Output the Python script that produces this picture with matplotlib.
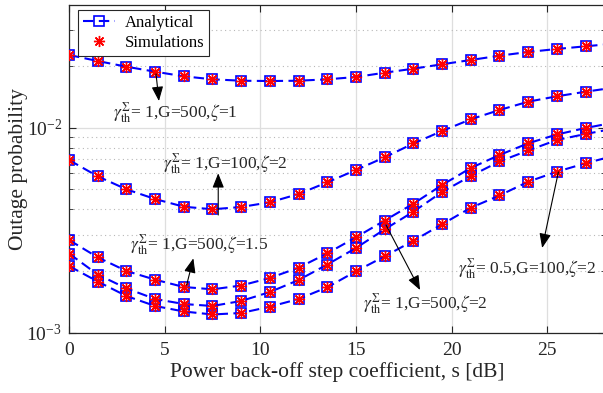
import matplotlib
matplotlib.use('Agg')
import matplotlib.pyplot as plt
from matplotlib.lines import Line2D
from matplotlib.ticker import LogLocator, NullFormatter

plt.rcParams['font.family'] = ['Liberation Serif', 'DejaVu Serif']
plt.rcParams['mathtext.fontset'] = 'stix'

# ---------------- data ----------------
s_db = [0, 1.5, 3, 4.5, 6, 7.5, 9, 10.5, 12, 13.5, 15, 16.5, 18, 19.5, 21,
        22.5, 24, 25.5, 27, 28.5]

# gamma=1, G=500, zeta=1
ana_g1_G500_z1 = [0.02263, 0.02115, 0.01984, 0.01876, 0.01781, 0.01722, 0.01695,
                  0.01689, 0.01695, 0.01722, 0.01767, 0.01855, 0.01940, 0.02039,
                  0.02139, 0.02245, 0.02341, 0.02421, 0.02495, 0.02570]
# gamma=1, G=100, zeta=2
ana_g1_G100_z2 = [0.006956, 0.005792, 0.005006, 0.004488, 0.004117, 0.004000,
                  0.004104, 0.004326, 0.004748, 0.005415, 0.006219, 0.007172,
                  0.008375, 0.009636, 0.01099, 0.01220, 0.01339, 0.01423,
                  0.01498, 0.01570]
# gamma=1, G=500, zeta=1.5
ana_g1_G500_z15 = [0.002833, 0.002332, 0.002000, 0.001814, 0.001671, 0.001628,
                   0.001699, 0.001849, 0.002075, 0.002439, 0.002920, 0.003526,
                   0.004259, 0.005254, 0.006361, 0.007359, 0.008393, 0.009265,
                   0.009966, 0.01060]
# gamma=1, G=500, zeta=2
ana_g1_G500_z2 = [0.002434, 0.001922, 0.001646, 0.001460, 0.001380, 0.001350,
                  0.001428, 0.001579, 0.001807, 0.002151, 0.002589, 0.003194,
                  0.003893, 0.004858, 0.005813, 0.006842, 0.007741, 0.008710,
                  0.009318, 0.00990]
# gamma=0.5, G=100, zeta=2
ana_g05_G100_z2 = [0.002115, 0.001777, 0.001510, 0.001350, 0.001269, 0.001227,
                   0.001248, 0.001339, 0.001460, 0.001665, 0.001993, 0.002359,
                   0.002808, 0.003379, 0.004068, 0.004670, 0.005452, 0.006101,
                   0.006705, 0.00730]

s_sim = s_db[:19]
sim_g1_G500_z1 = ana_g1_G500_z1[:19]
sim_g1_G100_z2 = ana_g1_G100_z2[:19]
sim_g1_G500_z15 = ana_g1_G500_z15[:19]
sim_g1_G500_z2 = ana_g1_G500_z2[:19]
sim_g05_G100_z2 = ana_g05_G100_z2[:19]

analytical = [ana_g1_G500_z1, ana_g1_G100_z2, ana_g1_G500_z15, ana_g1_G500_z2, ana_g05_G100_z2]
simulated = [sim_g1_G500_z1, sim_g1_G100_z2, sim_g1_G500_z15, sim_g1_G500_z2, sim_g05_G100_z2]

legend_labels = ['Analytical', 'Simulations']
x_ticks = [0, 5, 10, 15, 20, 25]

# ---------------- figure ----------------
W, H = 603, 393
fig = plt.figure(figsize=(W / 100, H / 100), dpi=100)
L, R, T, B = 69, 604.7, 4.7, 332.7
ax = fig.add_axes([L / W, (H - B) / H, (R - L) / W, (B - T) / H])

line_kw = dict(color='#0000ff', ls='--', dashes=(5, 2.6), lw=1.5, marker='s',
               ms=7.2, mfc='none', mec='#0000ff', mew=1.2)
sim_kw = dict(ls='none', marker=(8, 2, 0), ms=8, mec='#ff0000', mfc='#ff0000',
              mew=1.0, color='#ff0000')

for y in analytical:
    ax.semilogy(s_db, y, **line_kw, zorder=3)
for y in simulated:
    ax.semilogy(s_sim, y, **sim_kw, zorder=4)

ax.set_xlim(0, 28)
ax.set_ylim(1e-3, 10 ** -1.4)
ax.set_xticks(x_ticks)
ax.yaxis.set_major_locator(LogLocator(base=10, numticks=10))
ax.yaxis.set_minor_locator(LogLocator(base=10, subs=range(2, 10), numticks=20))
ax.yaxis.set_minor_formatter(NullFormatter())

ax.grid(True, which='major', color='#dedede', lw=0.9, ls='-', zorder=0)
ax.grid(True, which='minor', axis='y', color='#b8b8b8', lw=0.8, ls=(0, (1, 3)), zorder=0)
ax.set_axisbelow(True)

ax.tick_params(which='both', direction='in', top=True, right=True, colors='#262626',
               labelcolor='#262626')
ax.tick_params(which='major', length=5, width=0.8, labelsize=14)
ax.tick_params(axis='x', which='major', pad=7)
ax.tick_params(axis='y', which='major', pad=5)
ax.tick_params(which='minor', length=3, width=0.6)
for sp in ax.spines.values():
    sp.set_color('#262626')
    sp.set_linewidth(0.9)

ax.set_xlabel('Power back-off step coefficient, s [dB]', fontsize=15.5, color='#262626', labelpad=2)
ax.set_ylabel('Outage probability', fontsize=15.5, color='#262626')
ax.yaxis.set_label_coords(-(L - 28) / (R - L), 0.5)

# legend
h1 = Line2D([], [], **line_kw)
h2 = Line2D([], [], **sim_kw)
leg = ax.legend([h1, h2], legend_labels, loc='upper left',
                bbox_to_anchor=((78 - L) / (R - L), (B - 10) / (B - T)), borderaxespad=0,
                fontsize=12, fancybox=False, framealpha=1, edgecolor='#262626',
                handlelength=1.9, handletextpad=0.6, labelspacing=0.25, borderpad=0.3)
leg.get_frame().set_linewidth(0.8)

# annotations
arrow_kw = dict(arrowstyle='-|>,head_length=0.55,head_width=0.22', color='k', lw=0.8,
                mutation_scale=16, shrinkA=0, shrinkB=0)
arrows = [((4.55, 0.01828), (4.70, 0.01349)),
          ((7.80, 0.003751), (7.80, 0.005992)),
          ((6.15, 0.001709), (6.50, 0.002306)),
          ((16.57, 0.003353), (18.35, 0.001615)),
          ((25.58, 0.006081), (24.73, 0.002589))]
for tail, head in arrows:
    ax.annotate('', xy=head, xytext=tail, arrowprops=arrow_kw, zorder=5)

labels = [(2.30, 0.01124, r'$\gamma_{\rm th}^{\Sigma}$= 1,G=500,$\zeta$=1'),
          (4.91, 0.006288, r'$\gamma_{\rm th}^{\Sigma}$= 1,G=100,$\zeta$=2'),
          (3.19, 0.002532, r'$\gamma_{\rm th}^{\Sigma}$= 1,G=500,$\zeta$=1.5'),
          (15.37, 0.001305, r'$\gamma_{\rm th}^{\Sigma}$= 1,G=500,$\zeta$=2'),
          (20.33, 0.001933, r'$\gamma_{\rm th}^{\Sigma}$= 0.5,G=100,$\zeta$=2')]
for x, y, t in labels:
    ax.text(x, y, t, fontsize=12.5, ha='left', va='baseline', color='#262626', zorder=6)

fig.savefig('out.png', dpi=100)
